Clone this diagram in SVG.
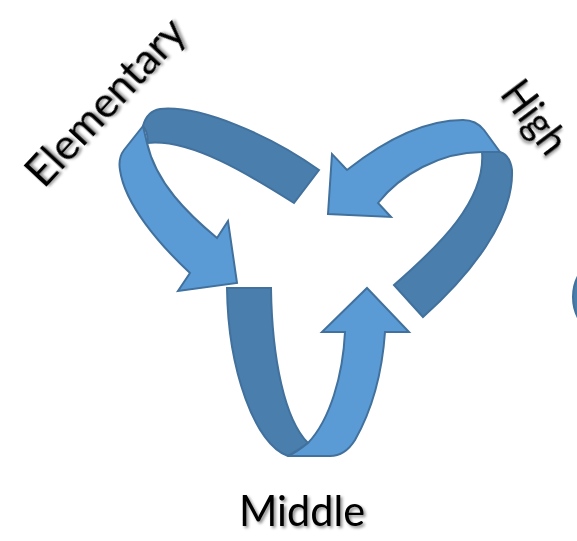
<svg xmlns="http://www.w3.org/2000/svg" width="577" height="541" viewBox="0 0 577 541">
  <defs>
    <filter id="sh" x="-20%" y="-20%" width="140%" height="140%">
      <feDropShadow dx="2" dy="2" stdDeviation="1.5" flood-color="#000" flood-opacity="0.45"/>
    </filter>
    <style>
      .dark { fill: #4A7EAD; stroke: #41719C; stroke-width: 2; stroke-linejoin: miter; }
      .light { fill: #5B9BD5; stroke: #41719C; stroke-width: 2; stroke-linejoin: miter; }
      .lbl { font-family: Lato, "Liberation Sans", sans-serif; font-size: 43px; fill: #000; filter: url(#sh); }
    </style>
  </defs>
  <rect width="577" height="541" fill="#fff"/>
  <g id="connectors">
    <g id="arrow-elementary">
      <path class="dark" d="M319,170 C270,135 200,105 160,109 Q147,111 143,126 Q149,134 147,143 C190,138 250,175 294,203 Z"/>
      <path class="light" d="M143,126 L124,150 Q118,158 120,170 C125,205 160,245 190,273 L178,291 L237,283 L228,221 L217,238 C188,214 156,183 147,143 Z"/>
    </g>
    <g id="arrow-middle">
      <path class="dark" d="M227,288 L271,288 C272,360 285,420 308,443 Q297,451 288,456 C255,445 228,370 227,288 Z"/>
      <path class="light" d="M288,456 L330,456 Q345,456 355,440 C372,410 382,375 385,332 L409,332 L367,288 L322,332 L345,332 C343,375 330,420 308,443 Q297,452 288,456 Z"/>
    </g>
    <g id="arrow-high">
      <path class="dark" d="M482,152 L500,152 Q510,155 512,170 C514,220 470,275 423,317 L394,285 C440,245 486,200 482,152 Z"/>
      <path class="light" d="M328,214 L332,154 L347,170 C385,140 425,120 463,120 Q476,120 484,130 L500,152 L482,152 C440,152 400,175 378,203 L391,217 Z"/>
    </g>
  </g>
  <g id="node-right">
    <circle cx="618" cy="297" r="45" class="dark"/>
  </g>
  <g id="label-elementary">
    <text class="lbl" transform="translate(116,112) rotate(-47)" text-anchor="middle" textLength="212" lengthAdjust="spacingAndGlyphs">Elementary</text>
  </g>
  <g id="label-high">
    <text class="lbl" transform="translate(523,126) rotate(53)" text-anchor="middle" textLength="80" lengthAdjust="spacingAndGlyphs">High</text>
  </g>
  <g id="label-middle">
    <text class="lbl" x="302" y="526" text-anchor="middle" textLength="126" lengthAdjust="spacingAndGlyphs">Middle</text>
  </g>
</svg>
